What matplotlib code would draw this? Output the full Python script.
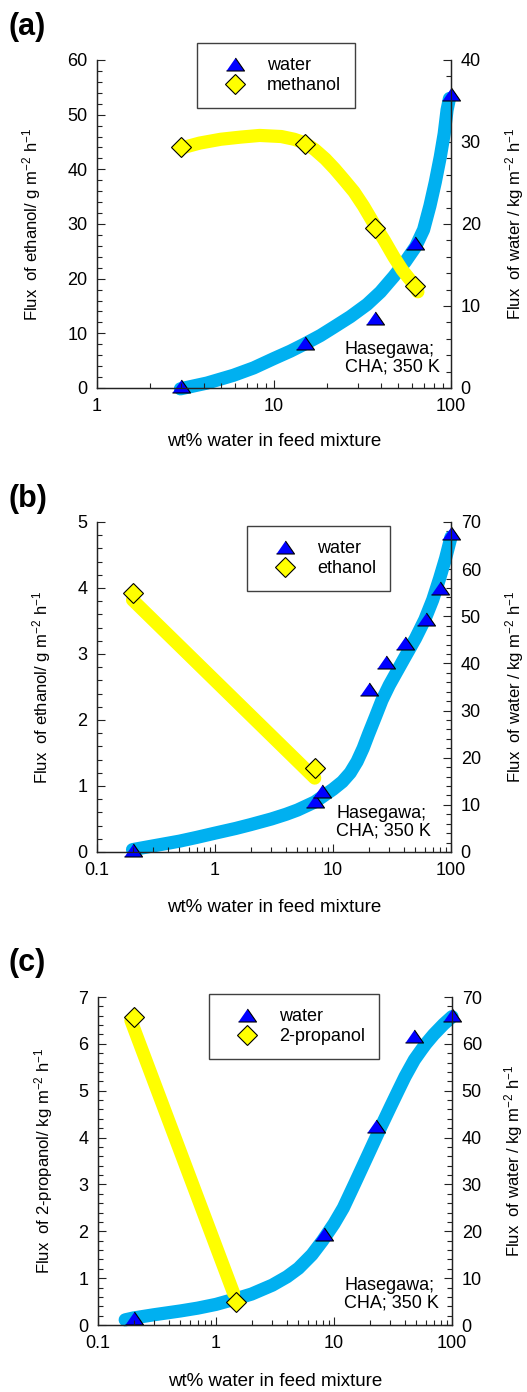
import matplotlib
matplotlib.use("Agg")
import matplotlib.pyplot as plt
from matplotlib.ticker import MultipleLocator, LogLocator, NullFormatter, FixedLocator, FixedFormatter
from matplotlib.lines import Line2D

plt.rcParams.update({
    "font.family": ["Liberation Sans", "DejaVu Sans"],
    "mathtext.fontset": "custom",
    "mathtext.rm": "Liberation Sans",
    "mathtext.it": "Liberation Sans:italic",
    "mathtext.bf": "Liberation Sans:bold",
    "mathtext.default": "regular",
})

# ---------------- data ----------------
# (a) water / methanol, x from 1 to 100 wt%
a_x_water = [3.0, 15, 37, 63, 100]
a_water = [0.3, 5.5, 8.5, 17.7, 35.8]            # kg m-2 h-1 (right axis)
a_x_meoh = [3.0, 15, 37, 63]
a_meoh = [44.1, 44.6, 29.2, 18.6]                # g m-2 h-1 (left axis)
a_fit_water_x = [2.96, 4.18, 5.9, 7.67, 10, 12.4, 15, 18.3, 21.7, 27, 33.6, 39.9,
                 47.5, 55.2, 63, 70, 76, 81.5, 87, 91.5, 95, 98]
a_fit_water_y = [-0.1, 0.6, 1.55, 2.45, 3.6, 4.5, 5.4, 6.4, 7.4, 8.7, 10.2, 11.7,
                 13.6, 15.4, 17.2, 19.3, 22.2, 25.1, 28.2, 31.0, 33.9, 35.3]
a_fit_meoh_x = [3.0, 3.8, 5.0, 6.5, 8.3, 11, 13, 15, 17, 19.5, 22, 25, 28.3, 32,
                36.6, 42, 47.5, 53, 59.4, 65]
a_fit_meoh_y = [43.9, 44.8, 45.5, 45.9, 46.2, 46.0, 45.5, 44.8, 43.6, 41.9, 40.1,
                38.0, 35.9, 33.3, 30.1, 27.0, 24.0, 21.6, 19.6, 17.6]

# (b) water / ethanol, x from 0.1 to 100 wt%
b_x_water = [0.2, 7, 8, 20, 28, 41, 61, 81, 100]
b_water = [0.4, 10.8, 12.9, 34.6, 40.2, 44.3, 49.4, 56.1, 67.7]
b_x_etoh = [0.2, 7]
b_etoh = [3.93, 1.27]
b_fit_water_x = [0.2, 0.3, 0.5, 0.7, 1, 1.5, 2, 3, 4, 5, 7, 10, 12, 14, 16, 18, 20,
                 23, 26, 30, 35, 40, 50, 60, 70, 80, 90, 100]
b_fit_water_y = [0.5, 1.3, 2.3, 3.1, 4.0, 5.0, 5.8, 7.0, 8.0, 8.9, 10.6, 13.3, 14.9,
                 16.8, 19.2, 22.0, 25.0, 28.8, 32.2, 35.4, 38.4, 41.0, 45.3, 49.3,
                 53.5, 58.0, 62.3, 66.8]
b_fit_etoh_x = [0.2, 7.0]
b_fit_etoh_y = [3.82, 1.12]

# (c) water / 2-propanol, x from 0.1 to 100 wt%
c_x_water = [0.2, 8.2, 22.5, 48, 100]
c_water = [1.5, 19.5, 42.5, 61.6, 66.1]
c_x_ipa = [0.2, 1.48]
c_ipa = [6.57, 0.50]
c_fit_water_x = [0.17, 0.2, 0.3, 0.5, 0.7, 1, 1.48, 2, 3, 4, 5, 6.5, 8, 10, 12, 15,
                 20, 25, 30, 35, 40, 48, 55, 60, 70, 85, 100]
c_fit_water_y = [1.1, 1.5, 2.2, 3.0, 3.6, 4.4, 5.6, 6.6, 8.5, 10.3, 12.1, 15.0, 18.0,
                 21.6, 25.0, 30.2, 37.0, 42.3, 46.5, 50.0, 53.0, 56.6, 58.7, 60.0,
                 62.0, 64.2, 65.8]
c_fit_ipa_x = [0.19, 1.41]
c_fit_ipa_y = [6.50, 0.68]

x_label = "wt% water in feed mixture"

# ---------------- styling ----------------
W, H = 527, 1392
BLUE_BAND = "#00B0F0"
YELLOW = "#FFFF00"
TRI = [(-1, -0.72), (1, -0.72), (0, 0.72)]
TICK_COLOR = "#222222"

fig = plt.figure(figsize=(W / 100, H / 100), dpi=100)


def box(l, t, r, b):
    return [l / W, 1 - b / H, (r - l) / W, (b - t) / H]


def style_axis(ax):
    ax.tick_params(which="both", direction="in", colors=TICK_COLOR, labelcolor="black",
                   width=0.8, labelsize=13, pad=7)
    ax.tick_params(which="major", length=6)
    ax.tick_params(which="minor", length=3.8)
    for s in ax.spines.values():
        s.set_linewidth(0.9)
        s.set_color(TICK_COLOR)
    ax.spines["top"].set_visible(False)


def panel(rect, letter, letter_y, xlim, xticks, xticklabels,
          ylim_l, maj_l, min_l, ylim_r, maj_r, min_r,
          fx_w, fy_w, px_w, py_w, fx_s, fy_s, px_s, py_s,
          solvent, ylabel_l, ylabel_r, ylab_lx, ylab_rx, xlab_y,
          legend_xy, note_xy):
    ax = fig.add_axes(box(*rect))
    ax2 = ax.twinx()
    ax.set_zorder(ax2.get_zorder() + 1)
    ax.patch.set_visible(False)

    ax.set_xscale("log")
    ax.set_xlim(*xlim)
    ax.xaxis.set_major_locator(FixedLocator(xticks))
    ax.xaxis.set_major_formatter(FixedFormatter(xticklabels))
    ax.xaxis.set_minor_locator(LogLocator(base=10, subs=range(2, 10), numticks=20))
    ax.xaxis.set_minor_formatter(NullFormatter())

    ax.set_ylim(*ylim_l)
    ax.yaxis.set_major_locator(MultipleLocator(maj_l))
    ax.yaxis.set_minor_locator(MultipleLocator(min_l))
    ax2.set_ylim(*ylim_r)
    ax2.yaxis.set_major_locator(MultipleLocator(maj_r))
    ax2.yaxis.set_minor_locator(MultipleLocator(min_r))
    style_axis(ax)
    style_axis(ax2)
    ax2.tick_params(axis="x", which="both", bottom=False, labelbottom=False)

    # water (right axis): fitted band + measured points
    ax2.plot(fx_w, fy_w, color=BLUE_BAND, lw=9.5, solid_capstyle="round",
             solid_joinstyle="round", clip_on=False, zorder=2)
    ax2.plot(px_w, py_w, linestyle="none", marker=TRI, ms=13, mfc="#0000FF",
             mec="black", mew=0.8, clip_on=False, zorder=3)

    # organic component (left axis): fitted band + measured points
    ax.plot(fx_s, fy_s, color=YELLOW, lw=9.5, solid_capstyle="round",
            solid_joinstyle="round", clip_on=False, zorder=2)
    ax.plot(px_s, py_s, linestyle="none", marker="D", ms=10.5, mfc=YELLOW,
            mec="black", mew=0.8, clip_on=False, zorder=3)

    ax.set_ylabel(ylabel_l, fontsize=12, labelpad=0)
    ax.yaxis.set_label_coords(ylab_lx, 0.5)
    ax2.set_ylabel(ylabel_r, fontsize=12, labelpad=0)
    ax2.yaxis.set_label_coords(ylab_rx, 0.5)
    ax.set_xlabel(x_label, fontsize=13.5)
    ax.xaxis.set_label_coords(0.5, xlab_y)

    handles = [
        Line2D([], [], linestyle="none", marker=TRI, ms=13, mfc="#0000FF", mec="black", mew=0.8),
        Line2D([], [], linestyle="none", marker="D", ms=10.5, mfc=YELLOW, mec="black", mew=0.8),
    ]
    leg = fig.legend(handles, ["water", solvent], loc="upper left",
                     bbox_to_anchor=(legend_xy[0] / W, 1 - legend_xy[1] / H),
                     bbox_transform=fig.transFigure, borderaxespad=0,
                     fontsize=13, numpoints=1, fancybox=False, framealpha=1,
                     edgecolor="#404040", borderpad=0.78, handlelength=2.66,
                     handletextpad=0.44, labelspacing=0.18)
    leg.get_frame().set_linewidth(1.0)

    fig.text(note_xy[0] / W, 1 - note_xy[1] / H, "Hasegawa;\nCHA; 350 K",
             fontsize=13, ha="left", va="baseline", linespacing=1.0)
    fig.text(9 / W, 1 - letter_y / H, letter, fontsize=22, fontweight="bold",
             ha="left", va="center")
    return ax, ax2


panel((97, 60, 451, 388), "(a)", 27, (1, 100), [1, 10, 100], ["1", "10", "100"],
      (0, 60), 10, 2, (0, 40), 10, 2,
      a_fit_water_x, a_fit_water_y, a_x_water, a_water,
      a_fit_meoh_x, a_fit_meoh_y, a_x_meoh, a_meoh,
      "methanol",
      "Flux  of ethanol/ g m$^{-2}$ h$^{-1}$",
      "Flux  of water / kg m$^{-2}$ h$^{-1}$",
      -0.1525, 1.147, -0.136, (197, 43), (345, 371))

panel((97, 522, 451, 852), "(b)", 499, (0.1, 100), [0.1, 1, 10, 100], ["0.1", "1", "10", "100"],
      (0, 5), 1, 0.2, (0, 70), 10, 2,
      b_fit_water_x, b_fit_water_y, b_x_water, b_water,
      b_fit_etoh_x, b_fit_etoh_y, b_x_etoh, b_etoh,
      "ethanol",
      "Flux  of ethanol/ g m$^{-2}$ h$^{-1}$",
      "Flux  of water / kg m$^{-2}$ h$^{-1}$",
      -0.1243, 1.147, -0.141, (247, 526), (336, 835))

panel((98, 997, 452, 1325), "(c)", 963, (0.1, 100), [0.1, 1, 10, 100], ["0.1", "1", "10", "100"],
      (0, 7), 1, 0.2, (0, 70), 10, 2,
      c_fit_water_x, c_fit_water_y, c_x_water, c_water,
      c_fit_ipa_x, c_fit_ipa_y, c_x_ipa, c_ipa,
      "2-propanol",
      "Flux  of 2-propanol/ kg m$^{-2}$ h$^{-1}$",
      "Flux  of water / kg m$^{-2}$ h$^{-1}$",
      -0.1215, 1.141, -0.145, (209, 994), (344, 1307))

fig.savefig("out.png", dpi=100)
